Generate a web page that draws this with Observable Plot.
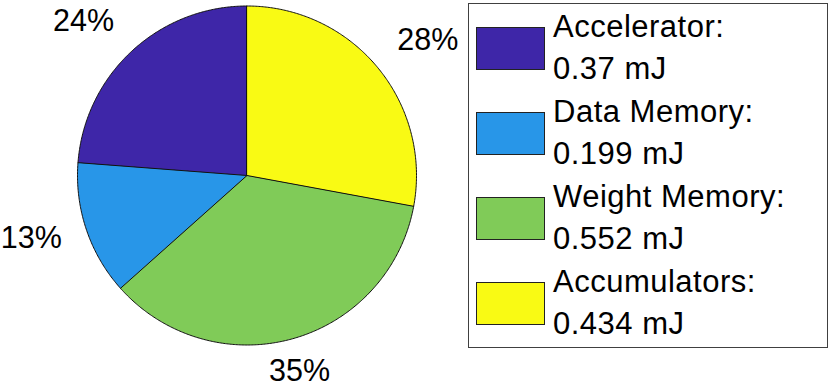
<!DOCTYPE html>
<html><head><meta charset="utf-8">
<script src="https://cdn.jsdelivr.net/npm/d3@7"></script>
<script src="https://cdn.jsdelivr.net/npm/@observablehq/plot@0.6"></script>
<style>
body{margin:0;background:#fff;font-family:"Liberation Sans",Arial,Helvetica,sans-serif;}
#wrap{position:relative;width:830px;height:388px;overflow:hidden;background:#fff}
#wrap svg{position:absolute;left:0;top:0}
.legend{position:absolute;left:468px;top:3px;width:360px;height:345px;border:1px solid #404040;box-sizing:border-box;background:#fff}
.sw{position:absolute;left:476px;width:69px;height:43px;border:1px solid #222;box-sizing:border-box}
.lt{position:absolute;left:553px;font-size:31px;line-height:42px;letter-spacing:0.5px;color:#000;white-space:nowrap}
</style></head><body><div id="wrap"></div>
<script>
const names = ["Accelerator", "Data Memory", "Weight Memory", "Accumulators"];
const values = [0.37, 0.199, 0.552, 0.434];
const colors = ["#3e26a8", "#2896e8", "#80cb58", "#f9fa14"];
const unit = "mJ";

const W = 830, H = 388, cx = 246.5, cy = 175, R = 169.5;
const total = d3.sum(values);
const yMin = -(H - cy) / R, yMax = cy / R;

// slices: start at 90deg, go counterclockwise (MATLAB pie)
let a0 = Math.PI / 2;
const slices = values.map((v, i) => {
  const span = v / total * 2 * Math.PI;
  const start = a0, end = a0 + span;
  a0 = end;
  const n = Math.max(2, Math.ceil(span / (Math.PI / 360)));
  const pts = [{x: 0, y: 0}];
  for (let k = 0; k <= n; k++) {
    const t = start + (end - start) * k / n;
    pts.push({x: Math.cos(t), y: Math.sin(t)});
  }
  const mid = (start + end) / 2;
  const c = Math.cos(mid), s = Math.sin(mid);
  const lx = 1.15 * c + (Math.abs(c) > 0.5 ? Math.sign(c) * 31 / R : 0);
  let ly = 1.15 * s + (Math.abs(s) > 0.5 ? Math.sign(s) * 11 / R : 0);
  ly = Math.max(ly, yMin + 17 / R);
  return {name: names[i], color: colors[i], pts, label: Math.round(v / total * 100) + "%", lx, ly};
});

const plot = Plot.plot({
  width: W, height: H,
  marginTop: 0, marginRight: 0, marginBottom: 0, marginLeft: 0,
  x: {domain: [-cx / R, (W - cx) / R], range: [0, W], axis: null},
  y: {domain: [yMin, yMax], range: [H, 0], axis: null},
  style: {fontFamily: '"Liberation Sans", Arial, sans-serif', background: "transparent"},
  marks: [
    ...slices.map(s => Plot.line(s.pts, {x: "x", y: "y", fill: s.color, stroke: "#111", strokeWidth: 1, curve: "linear-closed"})),
    Plot.text(slices, {x: "lx", y: "ly", text: "label", fontSize: 30.5, fill: "black", textAnchor: "middle", lineAnchor: "middle"})
  ]
});

const wrap = document.getElementById("wrap");
wrap.appendChild(plot);

const leg = document.createElement("div");
leg.className = "legend";
wrap.appendChild(leg);
names.forEach((n, i) => {
  const sw = document.createElement("div");
  sw.className = "sw";
  sw.style.top = (27 + 85 * i) + "px";
  sw.style.background = colors[i];
  wrap.appendChild(sw);
  const t = document.createElement("div");
  t.className = "lt";
  t.style.top = (6 + 85 * i) + "px";
  const l1 = document.createElement("div"); l1.textContent = n + ":";
  const l2 = document.createElement("div"); l2.textContent = values[i] + " " + unit;
  t.appendChild(l1); t.appendChild(l2);
  wrap.appendChild(t);
});
</script>
</body></html>
